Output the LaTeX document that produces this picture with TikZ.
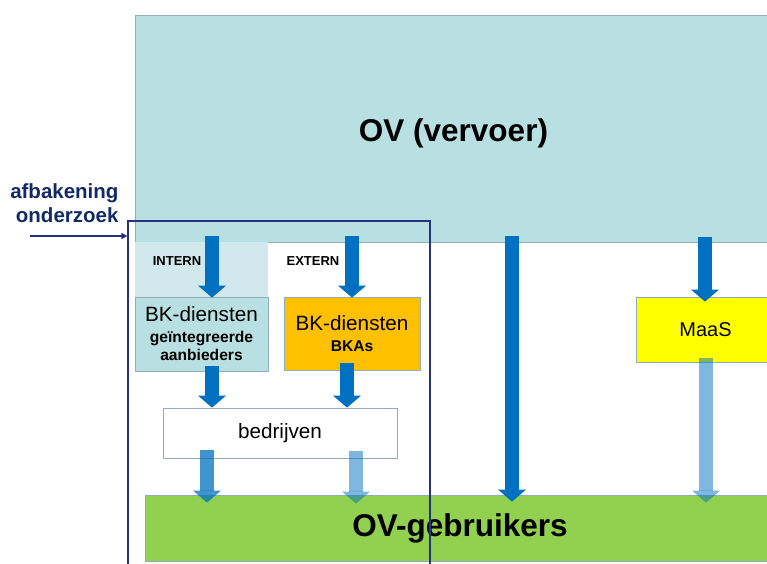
\documentclass[tikz,border=0pt]{standalone}
\usepackage{fontspec}
\setmainfont{Liberation Sans}
\usepackage{tikz}
\usetikzlibrary{arrows.meta, positioning}
\definecolor{ovteal}{HTML}{B8DFE2}
\definecolor{internteal}{HTML}{D1E9EC}
\definecolor{boxedge}{HTML}{8FAEBC}
\definecolor{flowblue}{HTML}{0070C0}
\definecolor{bkorange}{HTML}{FFC000}
\definecolor{maasyellow}{HTML}{FFFF00}
\definecolor{usersgreen}{HTML}{92D050}
\definecolor{navy}{HTML}{26327E}
\definecolor{labelnavy}{HTML}{112A66}

\begin{document}
\begin{tikzpicture}[x=1pt, y=-1pt,
    >={Triangle[width=28pt, length=12pt, line width=0pt]},
    box/.style={draw=boxedge, line width=0.8pt, inner sep=0pt, align=center},
    flow/.style={->, line width=14pt, draw=flowblue},
    tag/.style={font=\fontsize{13}{15}\selectfont\bfseries}]
  \useasboundingbox (0,0) rectangle (767,563);

  % vervoer en zones
  \node[box, fill=ovteal, minimum width=637pt, minimum height=227pt,
        text height=26pt, text depth=0pt,
        font=\fontsize{31.5}{36}\selectfont\bfseries] (ov) at (453.5,128.5) {OV (vervoer)};
  \node[fill=internteal, minimum width=133pt, minimum height=55pt, inner sep=0pt] (internzone) at (201.5,269.5) {};
  \node[tag] (intern) at (177,261) {INTERN};
  \node[tag] (extern) at (313,261) {EXTERN};

  % diensten
  \node[box, fill=ovteal, minimum width=133pt, minimum height=74pt,
        font=\fontsize{15.6}{18}\selectfont\bfseries] (bkint) at (201.5,334)
      {{\fontsize{20.7}{24}\mdseries\selectfont BK-diensten}\\[3pt] geïntegreerde\\ aanbieders};
  \node[box, fill=bkorange, minimum width=136pt, minimum height=73pt,
        font=\fontsize{15.6}{18}\selectfont\bfseries] (bkext) at (352,333.5)
      {{\fontsize{20.7}{24}\mdseries\selectfont BK-diensten}\\[3pt] BKAs};
  \node[box, fill=maasyellow, minimum width=139pt, minimum height=65pt,
        font=\fontsize{20}{24}\selectfont] (maas) at (705.5,329.5) {MaaS};
  \node[box, fill=white, minimum width=234pt, minimum height=50pt,
        font=\fontsize{20.7}{24}\selectfont] (bedrijven) at (280,433) {bedrijven};
  \node[box, fill=usersgreen, minimum width=630pt, minimum height=66pt,
        font=\fontsize{31.5}{36}\selectfont\bfseries] (users) at (460,528) {OV-gebruikers};

  % kolommen van de pijlen
  \foreach \naam/\x in {kA/212, kB/352, kC/512, kD/705, kE/347, kF/207, kG/356, kH/706}
    \coordinate (\naam) at (\x,0);

  \draw[flow] ([yshift=6pt]ov.south -| kA) -- ([yshift=-1pt]bkint.north -| kA);
  \draw[flow] ([yshift=6pt]ov.south -| kB) -- ([yshift=-1pt]bkext.north -| kB);
  \draw[flow] ([yshift=6pt]ov.south -| kC) -- ([yshift=-7pt]users.north -| kC);
  \draw[flow] ([yshift=5pt]ov.south -| kD) -- ([yshift=-5pt]maas.north -| kD);
  \draw[flow] ([yshift=5pt]bkint.south -| kA) -- (bedrijven.north -| kA);
  \draw[flow] ([yshift=7pt]bkext.south -| kE) -- (bedrijven.north -| kE);
  \draw[flow, opacity=0.75] ([yshift=8pt]bedrijven.south -| kF) -- ([yshift=-8pt]users.north -| kF);
  \draw[flow, opacity=0.5] ([yshift=7pt]bedrijven.south -| kG) -- ([yshift=-9pt]users.north -| kG);
  \draw[flow, opacity=0.5] ([yshift=4pt]maas.south -| kH) -- ([yshift=-8pt]users.north -| kH);

  % afbakening onderzoek
  \node[draw=navy, line width=1.1pt, minimum width=302pt, minimum height=360pt, inner sep=0pt] (afbakening) at (279,401) {};
  \node[anchor=east, align=right, text=labelnavy,
        font=\fontsize{20.5}{24}\selectfont\bfseries] (afbakeninglabel) at (122,203) {afbakening\\onderzoek};
  \coordinate (pijlstart) at (30,236);
  \draw[navy, line width=1.3pt, -{Triangle[length=6pt, width=6pt]}] (pijlstart) -- (pijlstart -| afbakening.west);
\end{tikzpicture}
\end{document}
